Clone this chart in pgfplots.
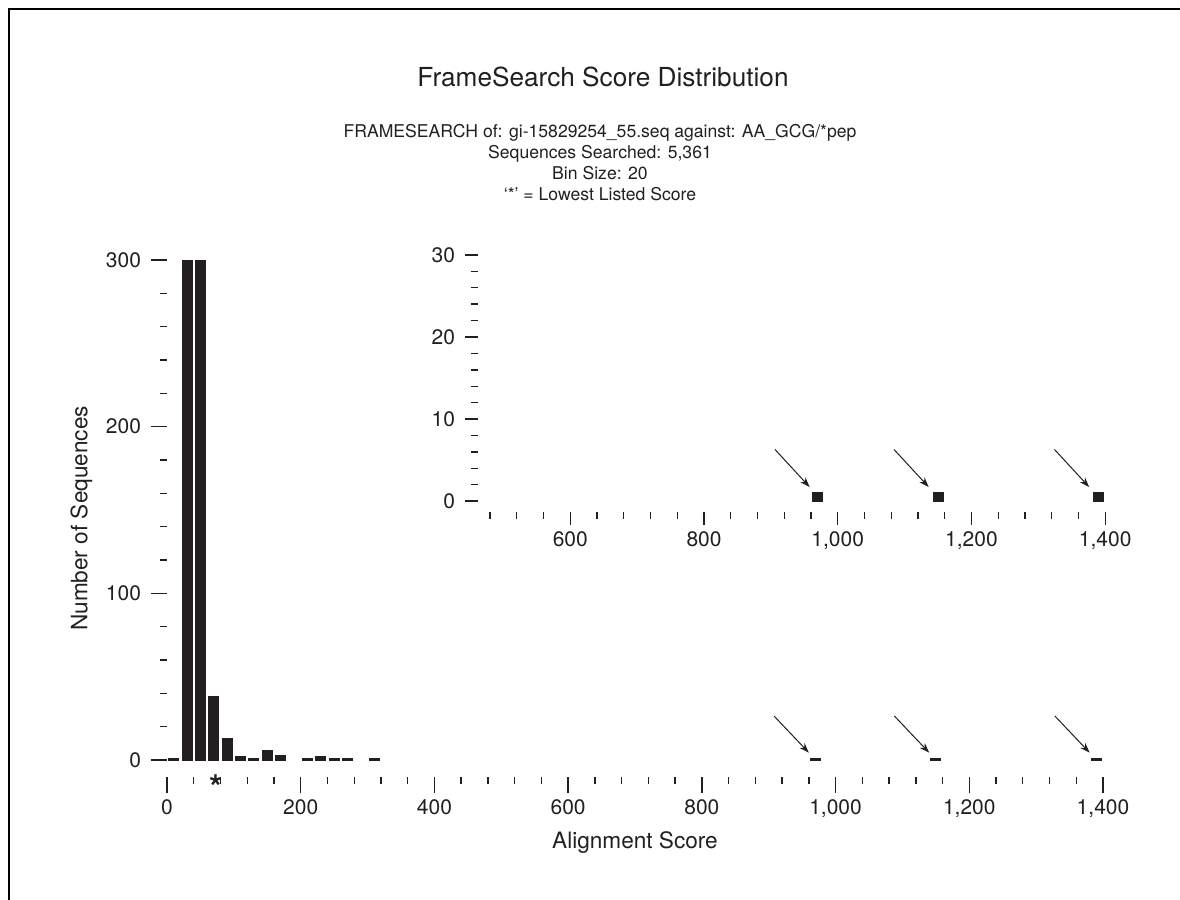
\documentclass[border=0pt]{standalone}
\usepackage{fontspec}
\setmainfont{TeX Gyre Heros}
\usepackage{pgfplots}
\pgfplotsset{compat=1.18}
\usetikzlibrary{arrows.meta}
\definecolor{ink}{RGB}{35,31,32}

\pgfplotsset{
  framestyle/.style={
    scale only axis,
    axis lines*=left,
    axis line style={draw=none},
    tick align=outside,
    tick style={ink, line width=0.7bp},
    ticklabel style={font=\fontsize{10.5bp}{12bp}\selectfont, text=ink},
    yticklabel style={xshift=-1.5bp},
    label style={font=\fontsize{11.3bp}{13bp}\selectfont, text=ink},
    /pgf/number format/assume math mode=true,
    /pgf/number format/1000 sep={,},
    ybar, bar width=15,
    clip=false,
  },
}
\tikzset{arr/.style={ink, line width=0.5bp, -{Stealth[length=5bp, width=3.5bp]}}}

\begin{document}
\begin{tikzpicture}
% frame
\draw[black, line width=0.85bp] (4.5bp,-5bp) -- (4.5bp,445.5bp) -- (600bp,445.5bp);

\node[text=ink, font=\fontsize{13.1bp}{16bp}\selectfont] at (301.5bp,411.5bp) {FrameSearch Score Distribution};
\node[text=ink, font=\fontsize{8.8bp}{10.5bp}\selectfont, align=center] at (300bp,368.5bp)
  {FRAMESEARCH of: gi-15829254\_55.seq against: AA\_GCG/*pep\\
   Sequences Searched: 5,361\\
   Bin Size: 20\\
   ‘*’ = Lowest Listed Score};

% main histogram
\begin{axis}[framestyle,
  at={(83.5bp,61.65bp)}, anchor=south west,
  width=468bp, height=258.33bp,
  xmin=0, xmax=1400, ymin=-10, ymax=300,
  xtick={0,200,...,1400}, minor x tick num=4,
  ytick={0,100,200,300}, minor y tick num=4,
  major tick length=8bp, minor tick length=3.5bp,
  xlabel={Alignment Score}, ylabel={Number of Sequences},
]
\addplot[fill=ink, draw=ink, line width=0.5bp] coordinates {
  (10,1) (30,300) (50,300) (70,38) (90,13) (110,2) (130,1) (150,6) (170,3)
  (210,1) (230,2) (250,1) (270,1) (310,1)
  (970,1) (1150,1) (1390,1)
};
\node[text=ink, font=\bfseries\fontsize{17bp}{18bp}\selectfont] at (axis cs:73,-16.5) {*};
\draw[arr] (axis cs:908,26.4) -- (axis cs:960,4.4);
\draw[arr] (axis cs:1088,26.4) -- (axis cs:1140,4.4);
\draw[arr] (axis cs:1328,26.4) -- (axis cs:1380,4.4);
\end{axis}

% inset
\begin{axis}[framestyle,
  at={(239bp,194.15bp)}, anchor=south west,
  width=313.6bp, height=128.35bp,
  xmin=462, xmax=1400, ymin=-1.3, ymax=30,
  xtick={600,800,...,1400}, minor xtick={480,520,...,1400},
  ytick={0,10,20,30}, minor y tick num=4,
  major tick length=6.5bp, minor tick length=3.5bp,
]
\addplot[fill=ink, draw=ink, line width=0.5bp] coordinates {
  (970,1) (1150,1) (1390,1)
};
\draw[arr] (axis cs:906,6.3) -- (axis cs:958,1.7);
\draw[arr] (axis cs:1084,6.3) -- (axis cs:1136,1.7);
\draw[arr] (axis cs:1324,6.3) -- (axis cs:1376,1.7);
\end{axis}

\pgfresetboundingbox
\useasboundingbox (0,0) rectangle (590bp,450bp);
\end{tikzpicture}
\end{document}
